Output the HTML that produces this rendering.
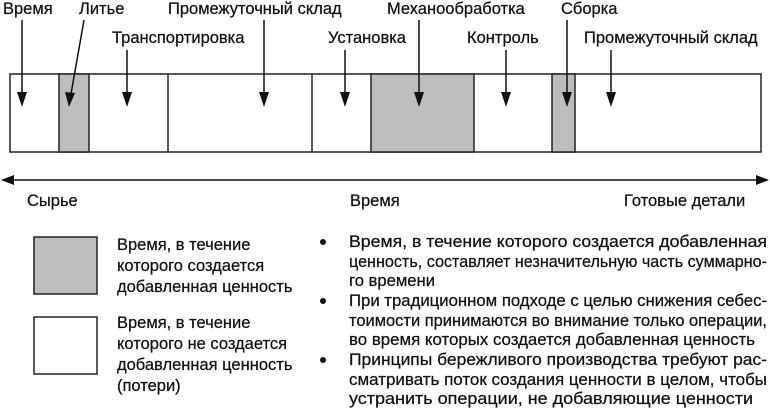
<!DOCTYPE html>
<html><head><meta charset="utf-8"><style>
html,body{margin:0;padding:0;background:#fff;}
svg{display:block;}
text{font-family:"Liberation Sans","DejaVu Sans",sans-serif;font-size:16.5px;fill:#111;stroke:#111;stroke-width:0.25;}
</style></head><body>
<svg width="770" height="408" viewBox="0 0 770 408" xmlns="http://www.w3.org/2000/svg">
<g stroke="#222" stroke-width="1.5">
<rect x="10" y="74" width="751" height="78" fill="#fff"/>
<rect x="59" y="74" width="30" height="78" fill="#bdbdbd"/>
<rect x="371" y="74" width="103" height="78" fill="#bdbdbd"/>
<rect x="552" y="74" width="23" height="78" fill="#bdbdbd"/>
<line x1="168" y1="74" x2="168" y2="152"/>
<line x1="312" y1="74" x2="312" y2="152"/>
</g>
<g stroke="#111" stroke-width="1.5">
<line x1="22" y1="20" x2="22" y2="94"/>
<line x1="84" y1="20" x2="71" y2="94"/>
<line x1="127" y1="50" x2="127" y2="94"/>
<line x1="264" y1="20" x2="264" y2="94"/>
<line x1="345" y1="50" x2="345" y2="94"/>
<line x1="419" y1="20" x2="419" y2="94"/>
<line x1="506" y1="50" x2="506" y2="94"/>
<line x1="567" y1="20" x2="567" y2="94"/>
<line x1="611" y1="50" x2="611" y2="94"/>
<line x1="8" y1="180" x2="760" y2="180"/>
</g>
<g fill="#111">
<path d="M17,92 L27,92 L22,107 Z"/>
<path d="M65,92 L75,93 L69,107 Z"/>
<path d="M122,92 L132,92 L127,107 Z"/>
<path d="M259,92 L269,92 L264,107 Z"/>
<path d="M340,92 L350,92 L345,107 Z"/>
<path d="M414,92 L424,92 L419,107 Z"/>
<path d="M501,92 L511,92 L506,107 Z"/>
<path d="M562,92 L572,92 L567,107 Z"/>
<path d="M606,92 L616,92 L611,107 Z"/>
<path d="M1,180 L14,175 L14,185 Z"/>
<path d="M769,180 L756,175 L756,185 Z"/>
</g>
<text x="3" y="14">Время</text>
<text x="79" y="14">Литье</text>
<text x="168" y="14">Промежуточный склад</text>
<text x="112" y="43">Транспортировка</text>
<text x="328" y="43">Установка</text>
<text x="387" y="14">Механообработка</text>
<text x="467" y="43">Контроль</text>
<text x="561" y="14">Сборка</text>
<text x="584" y="43">Промежуточный склад</text>
<text x="27" y="206">Сырье</text>
<text x="350" y="206">Время</text>
<text x="624" y="206">Готовые детали</text>
<rect x="34" y="237" width="63" height="57" fill="#bdbdbd" stroke="#222" stroke-width="1.5"/>
<rect x="34" y="317" width="63" height="57" fill="#fff" stroke="#222" stroke-width="1.5"/>
<text x="117" y="250">Время, в течение</text>
<text x="117" y="271">которого создается</text>
<text x="117" y="292">добавленная ценность</text>
<text x="117" y="328">Время, в течение</text>
<text x="117" y="349">которого не создается</text>
<text x="117" y="370">добавленная ценность</text>
<text x="117" y="391">(потери)</text>
<g fill="#111"><circle cx="323" cy="242" r="3"/><circle cx="323" cy="301" r="3"/><circle cx="323" cy="360" r="3"/></g>
<text x="349" y="247" textLength="418" lengthAdjust="spacingAndGlyphs">Время, в течение которого создается добавленная</text>
<text x="349" y="267" textLength="418" lengthAdjust="spacingAndGlyphs">ценность, составляет незначительную часть суммарно-</text>
<text x="349" y="286" textLength="86" lengthAdjust="spacingAndGlyphs">го времени</text>
<text x="349" y="306" textLength="418" lengthAdjust="spacingAndGlyphs">При традиционном подходе с целью снижения себес-</text>
<text x="349" y="326" textLength="418" lengthAdjust="spacingAndGlyphs">тоимости принимаются во внимание только операции,</text>
<text x="349" y="345" textLength="406" lengthAdjust="spacingAndGlyphs">во время которых создается добавленная ценность</text>
<text x="349" y="365" textLength="418" lengthAdjust="spacingAndGlyphs">Принципы бережливого производства требуют рас-</text>
<text x="349" y="385" textLength="418" lengthAdjust="spacingAndGlyphs">сматривать поток создания ценности в целом, чтобы</text>
<text x="349" y="404" textLength="404" lengthAdjust="spacingAndGlyphs">устранить операции, не добавляющие ценности</text>
</svg>
</body></html>
